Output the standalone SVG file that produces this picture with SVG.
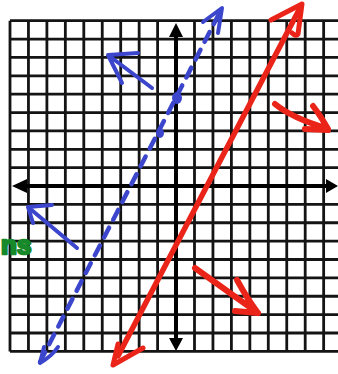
<svg xmlns="http://www.w3.org/2000/svg" width="338" height="374" viewBox="0 0 338 374">
<style>
.grid{fill:none;stroke:#141414;stroke-width:2.8}
.axis{fill:none;stroke:#000;stroke-width:4}
.head{fill:#000}
.red{fill:none;stroke:#ea2418;stroke-linecap:round;stroke-linejoin:round}
.blue{fill:none;stroke:#3b46cc;stroke-linecap:round;stroke-linejoin:round}
</style>
<rect width="338" height="374" fill="#fff"/>
<g id="grid">
<path class="grid" d="M10,20.7V351.4M28.45,20.7V351.4M46.9,20.7V351.4M65.35,20.7V351.4M83.8,20.7V351.4M102.25,20.7V351.4M120.7,20.7V351.4M139.15,20.7V351.4M157.6,20.7V351.4M194.5,20.7V351.4M212.95,20.7V351.4M231.4,20.7V351.4M249.85,20.7V351.4M268.3,20.7V351.4M286.75,20.7V351.4M305.2,20.7V351.4M323.65,20.7V351.4"/>
<path class="grid" d="M10,20.7H338M10,39.07H338M10,57.44H338M10,75.81H338M10,94.18H338M10,112.55H338M10,130.92H338M10,149.29H338M10,167.66H338M10,204.4H338M10,222.77H338M10,241.14H338M10,259.51H338M10,277.88H338M10,296.25H338M10,314.62H338M10,332.99H338M10,351.36H338"/>
</g>
<g id="axes">
<path class="axis" d="M176,32V342M20,186H330"/>
<polygon class="head" points="176,23 169,37 183,37"/>
<polygon class="head" points="176,351 169,338 183,338"/>
<polygon class="head" points="12,186 27,179 27,193"/>
<polygon class="head" points="338,186 326,179 326,193"/>
</g>
<g id="red-line">
<path class="red" stroke-width="5.5" d="M118,356L300,8"/>
<path class="red" stroke-width="5" d="M271,20L302,4L298,34Q296,37 292,33"/>
<path class="red" stroke-width="5" d="M118,344L113,365L143,348"/>
</g>
<g id="red-arrows">
<path class="red" stroke-width="6" d="M275,104Q292,118 326,128M313,106Q320,115 328,129M305,129L328,130"/>
<path class="red" stroke-width="6" d="M195,268L258,313M237,280Q248,300 258,313M235,311L258,313"/>
</g>
<g id="blue-line">
<path class="blue" stroke-width="4.5" stroke-dasharray="11 9" d="M40,362L222,8"/>
<ellipse cx="177" cy="98" rx="5" ry="6" fill="#3b46cc"/>
<ellipse cx="160" cy="133" rx="4" ry="5" fill="#3b46cc"/>
<path class="blue" stroke-width="4" d="M203,22L222,8L218,33"/>
<path class="blue" stroke-width="4" d="M44,347L40,363Q52,356 58,347"/>
</g>
<g id="blue-arrows">
<path class="blue" stroke-width="4" d="M152,88L108,55M138,53L108,55L122,83"/>
<path class="blue" stroke-width="4" d="M77,248L28,207M52,205L28,207L33,223"/>
</g>
<g id="note">
<text x="1" y="254" font-family="Liberation Sans, Arial, sans-serif" font-size="26" font-weight="bold" fill="#17892b" stroke="#17892b" stroke-width="2.5" stroke-linejoin="round">ns</text>
</g>
</svg>
